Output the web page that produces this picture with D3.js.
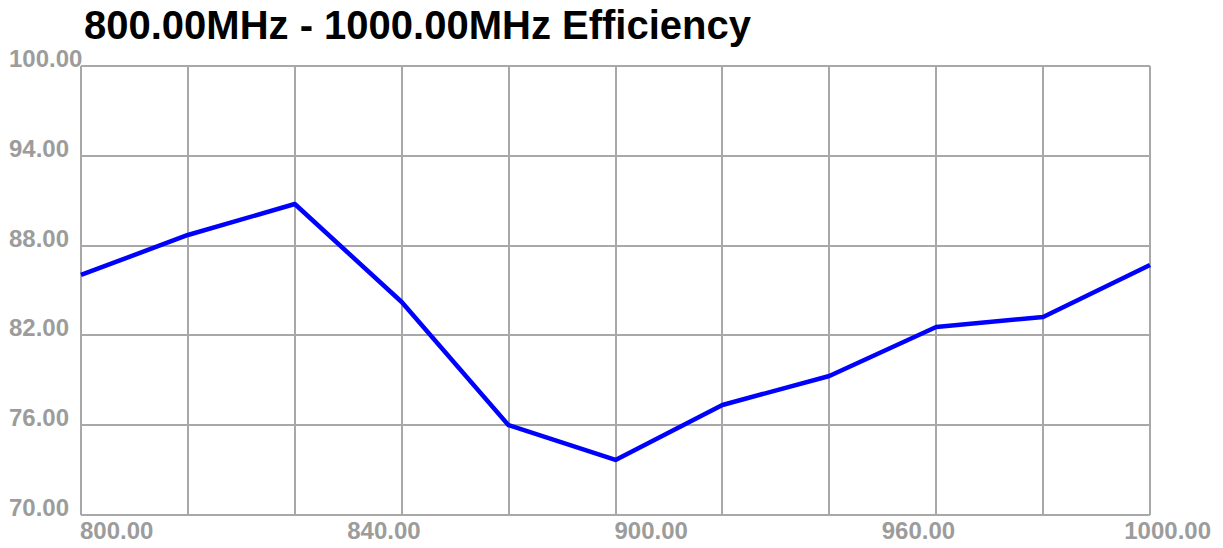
<!DOCTYPE html>
<html>
<head>
<meta charset="utf-8">
<script src="https://cdn.jsdelivr.net/npm/d3@7"></script>
<style>
	body { margin: 0; background: #fff; }
	svg { display: block; }
	.tick-label { font-family: "Liberation Sans", Arial, sans-serif; font-weight: bold; font-size: 24px; fill: #9c9c9c; }
	.title { font-family: "Liberation Sans", Arial, sans-serif; font-weight: bold; font-size: 40px; fill: #000; }
</style>
</head>
<body>
<div id="chart"></div>
<script>
// DATA
const freqs = [800, 820, 840, 860, 880, 900, 920, 940, 960, 980, 1000];
const efficiency = [86.04, 88.71, 90.78, 84.23, 76.0, 73.68, 77.35, 79.29, 82.56, 83.23, 86.70];
const yTicks = [70, 76, 82, 88, 94, 100];
const xGrid = [800, 820, 840, 860, 880, 900, 920, 940, 960, 980, 1000];
const xLabelPos = [800, 850, 900, 950, 1000];
const xLabelText = ["800.00", "840.00", "900.00", "960.00", "1000.00"];
const titleText = "800.00MHz - 1000.00MHz Efficiency";


// CHART
function drawChart() {
	const w = 1223;
	const h = 548;
	const padLeft = 81;
	const padRight = 73;
	const padTop = 66;
	const padBottom = 33;

	const xScale = d3.scaleLinear()
		.domain([800, 1000])
		.range([padLeft, w - padRight]);
	const yScale = d3.scaleLinear()
		.domain([70, 100])
		.range([h - padBottom, padTop]);

	const svg = d3.select("#chart")
		.append("svg")
		.attr("width", w)
		.attr("height", h);

	// title
	svg.append("text")
		.attr("class", "title")
		.attr("x", 84)
		.attr("y", 39)
		.text(titleText);

	// grid
	const grid = svg.append("g")
		.attr("stroke", "#a8a8a8")
		.attr("stroke-width", 2)
		.attr("shape-rendering", "crispEdges");
	grid.selectAll(".vline")
		.data(xGrid)
		.enter()
		.append("line")
		.attr("x1", d => Math.round(xScale(d)))
		.attr("x2", d => Math.round(xScale(d)))
		.attr("y1", yScale(70))
		.attr("y2", yScale(100));
	grid.selectAll(".hline")
		.data(yTicks)
		.enter()
		.append("line")
		.attr("x1", xScale(800))
		.attr("x2", xScale(1000))
		.attr("y1", d => Math.round(yScale(d)))
		.attr("y2", d => Math.round(yScale(d)));

	// y labels
	svg.selectAll(".ylab")
		.data(yTicks)
		.enter()
		.append("text")
		.attr("class", "tick-label")
		.attr("x", 9)
		.attr("y", d => yScale(d) + 1)
		.text(d => d.toFixed(2));

	// x labels
	svg.selectAll(".xlab")
		.data(xLabelPos)
		.enter()
		.append("text")
		.attr("class", "tick-label")
		.attr("x", (d, i) => i === xLabelPos.length - 1 ? w - 12 : xScale(d) - 1)
		.attr("y", h - 9)
		.attr("text-anchor", (d, i) => i === xLabelPos.length - 1 ? "end" : "start")
		.text((d, i) => xLabelText[i]);

	// line
	const line = d3.line()
		.x((d, i) => xScale(freqs[i]))
		.y(d => yScale(d));
	svg.append("path")
		.datum(efficiency)
		.attr("d", line)
		.attr("fill", "none")
		.attr("stroke", "#0000ff")
		.attr("stroke-width", 4.5)
		.attr("stroke-linejoin", "round");
}

document.addEventListener('DOMContentLoaded', () => {
	drawChart();
});
</script>
</body>
</html>
